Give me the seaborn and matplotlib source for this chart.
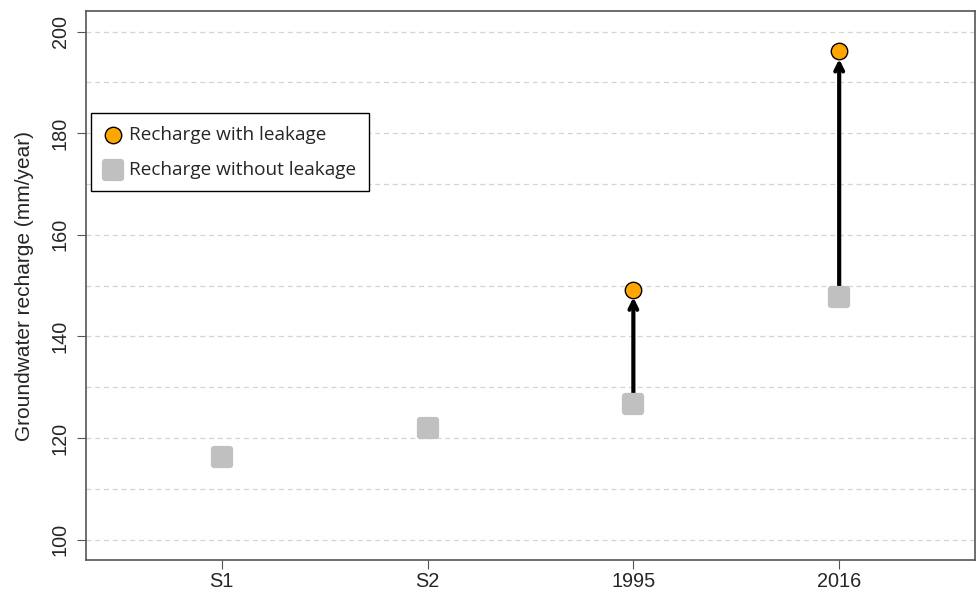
import seaborn as sns
import matplotlib.pyplot as plt
import pandas as pd
import numpy as np

categories = ['S1', 'S2', '1995', '2016']
without_leakage = [116.2, 121.9, 126.8, 147.7]
with_leakage = [np.nan, np.nan, 149.2, 196.1]

df_without = pd.DataFrame({'scenario': categories, 'recharge': without_leakage})
df_with = pd.DataFrame({'scenario': categories, 'recharge': with_leakage}).dropna()

sns.set_style('white')
plt.rcParams['font.family'] = ['Liberation Sans', 'DejaVu Sans']

fig = plt.figure(figsize=(9.76, 5.92), dpi=100)
ax = fig.add_axes([0.088, 0.054, 0.911, 0.927])

# dashed grid every 10
for y in range(100, 201, 10):
    ax.axhline(y, color='#d4d4d4', linestyle=(0, (4, 3)), linewidth=0.9, zorder=0)

# arrows from without -> with leakage
for cat, lo, hi in zip(categories, without_leakage, with_leakage):
    if np.isnan(hi):
        continue
    ax.annotate('', xy=(cat, hi), xytext=(cat, lo),
                arrowprops=dict(arrowstyle='->', color='black', lw=3,
                                shrinkA=0, shrinkB=5.5, mutation_scale=14),
                zorder=2)

sns.scatterplot(data=df_without, x='scenario', y='recharge', marker='s', s=130,
                color='#c0c0c0', edgecolor='#c0c0c0', linewidth=4.5,
                label='Recharge without leakage', ax=ax, zorder=3)
ax.collections[-1].set_joinstyle('round')
sns.scatterplot(data=df_with, x='scenario', y='recharge', marker='o', s=140,
                color='#FFA500', edgecolor='black', linewidth=1,
                label='Recharge with leakage', ax=ax, zorder=4)

ax.set_xlim(-0.66, 3.66)
ax.set_ylim(96, 204)
ax.set_yticks(range(100, 201, 20))
ax.set_xlabel('')
ax.set_ylabel('Groundwater recharge (mm/year)', fontsize=15, labelpad=12)
ax.tick_params(axis='both', which='major', length=6.5, width=0.8, color='#555555',
               labelsize=14.3, left=True, bottom=True, pad=5)
ax.tick_params(axis='x', pad=2)
for lab in ax.get_yticklabels():
    lab.set_rotation(90)
    lab.set_va('center')
for sp in ax.spines.values():
    sp.set_color('#555555')
    sp.set_linewidth(1.2)

handles, labels = ax.get_legend_handles_labels()
leg = ax.legend(handles[::-1], labels[::-1], loc='upper left', bbox_to_anchor=(0.006, 0.814),
                frameon=True, fancybox=False, edgecolor='black', framealpha=1,
                prop={'family': 'Open Sans', 'size': 13.7}, handletextpad=0.35,
                borderpad=0.65, labelspacing=0.9, handlelength=1.0, borderaxespad=0)
leg.get_frame().set_linewidth(1)

fig.savefig('out.png', dpi=100)
